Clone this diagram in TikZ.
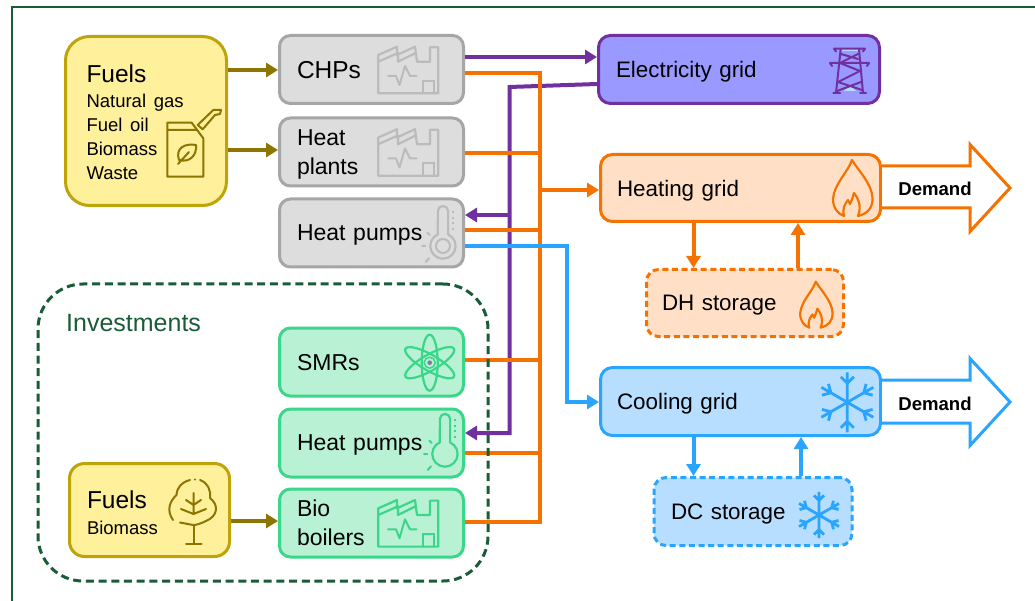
\documentclass[tikz,border=0pt]{standalone}
\usepackage{fontspec}
\setmainfont[WordSpace=0.72]{Liberation Sans}
\usetikzlibrary{arrows.meta,calc}
\definecolor{frameC}{HTML}{1A5C38}
\definecolor{fuelF}{HTML}{FFF09C}
\definecolor{fuelD}{HTML}{BFA30A}
\definecolor{oliveC}{HTML}{8C7500}
\definecolor{greyF}{HTML}{DDDDDD}
\definecolor{greyD}{HTML}{A6A6A6}
\definecolor{greyI}{HTML}{BBBBBB}
\definecolor{greenF}{HTML}{B9F1D4}
\definecolor{greenD}{HTML}{3AD68A}
\definecolor{purpC}{HTML}{7030A0}
\definecolor{elecF}{HTML}{9999FF}
\definecolor{orC}{HTML}{F57200}
\definecolor{orF}{HTML}{FFE0C7}
\definecolor{blC}{HTML}{2AA5FF}
\definecolor{blF}{HTML}{B7DEFF}
\newcommand{\fbig}{\fontsize{24.5}{29}\selectfont}
\newcommand{\fsml}{\fontsize{18.5}{24}\selectfont}
\tikzset{
  bx/.style n args={3}{rectangle,minimum width=#1pt,minimum height=#2pt,inner xsep=#3pt,inner ysep=0pt,
     text width=#1pt-2*#3pt,align=left,line width=3pt,outer sep=1.5pt,
     font=\fontsize{23}{29}\selectfont,text=black,
     execute at end node={\par\vspace*{-5pt}}},
  gridtext/.style={font=\fontsize{22.4}{29}\selectfont},
  rc/.style={rounded corners=#1pt},
  greybox/.style={draw=greyD,fill=greyF,rc=11},
  greenbox/.style={draw=greenD,fill=greenF,rc=11},
  fuelbox/.style={draw=fuelD,fill=fuelF},
  dashbox/.style={dash pattern=on 6pt off 3.6pt},
  link/.style={line width=4pt},
  tip/.style={-{Triangle[length=12pt,width=14pt]}},
  oarrow/.style={link,oliveC,tip},
  pline/.style={link,purpC},
  oline/.style={link,orC},
  bline/.style={link,blC},
  dem/.style={line width=3pt,fill=white,line join=miter},
  demtext/.style={font=\bfseries\fontsize{18.6}{22}\selectfont,text=black},
  ico/.style={line width=2pt,line cap=round,line join=round},
  factory/.pic={
    \draw[ico,line width=2.2pt] (8.3,53.3)--(8.3,15)--(27,6.7)--(27,15)--(45,6.7)--(47,21.7)--(60,21.7)--(60,7.3)--(68.3,7.3)--(68.3,53.3)--cycle;
    \draw[ico,line width=2.2pt] (8.3,21.7)--(28,13)--(28,21.7)--(45,13.3);
    \draw[ico] (18,36)--(26,36)--(29.5,45)--(35,26)--(40,36)--(46.5,36);
    \draw[ico,line join=miter] (53.3,53.3)--(53.3,41)--(64,41)--(64,53.3);
  },
  thermo/.pic={
    \draw[ico,line width=2.2pt] (5.1,-11.6) arc[start angle=66,delta angle=-312,radius=12.7pt] -- (-5.1,-35)
       arc[start angle=180,delta angle=-180,radius=5.1pt] -- cycle;
    \draw[ico,line width=2pt,dash pattern=on 2pt off 3.6pt,line cap=butt] (10,-35)--(10,-14);
    \draw[ico] (-15.6,-13.3)--(-13.3,-11) (-21,0)--(-17.6,0) (-17.3,16)--(-14,12.3);
  },
  atom/.pic={
    \foreach \a in {0,60,120}{\draw[line width=2.2pt,rotate=\a] (0,0) circle[x radius=8,y radius=28];}
    \draw[line width=1.5pt] (0,0) circle[radius=5.5];
    \fill[fill=purpC!45!greyD] (0,0) circle[radius=2.3];
  },
  flame/.pic={
    \draw[ico,line width=2.2pt] (32,4) .. controls (28,16) and (14,28) .. (13,43) .. controls (13,52) and (18,58) .. (24,60)
      .. controls (22,52) and (25,48) .. (28,44) -- (30,48) .. controls (32,44) and (33,40) .. (34,37)
      .. controls (38,42) and (42,50) .. (38,60) .. controls (47,58) and (53,52) .. (52.5,42)
      .. controls (52,28) and (38,14) .. (32,4) -- cycle;
  },
  snow/.pic={
    \foreach \a in {0,60,...,300}{
      \draw[line width=2.8pt,rotate=\a] (0,0)--(0,-30) (0,-19)--(-6.5,-25.5) (0,-19)--(6.5,-25.5);}
  },
  tower/.pic={
    \fill[fill=blF] (24,53)--(30,47.5)--(36,53)--cycle;
    \fill[fill=blF] (20,11)--(39,11)--(39,13)--(20,13)--cycle;
    \draw[ico] (14,10.7)--(45,10.7) (14,10.7)--(16,13.5) (45,10.7)--(43,13.5);
    \draw[ico] (10,25)--(49,25) (10,25)--(12,28) (49,25)--(47,28);
    \draw[ico] (20.7,11)--(16,55) (39,11)--(43,55) (13.3,55)--(20,55) (40,55)--(46,55);
    \draw[ico] (21,16)--(38,21) (38,16)--(20,25) (20,25)--(40,33) (40,33)--(18,44) (18,44)--(42,52) (41,44)--(17,53);
  },
  can/.pic={
    \draw[ico,line join=round] (7.3,22.7)--(31.7,22.7)--(43.3,38.3)--(43.3,76.7)--(7.3,76.7)--cycle (7.3,30)--(36.7,30);
    \draw[ico] (37.7,25)--(53.3,10)--(61,10)--(60,14)--(55,15)--(42.7,29.3)--cycle;
    \draw[ico] (19,60) .. controls (15,48) and (25,43) .. (36,45) .. controls (37,55) and (30,63) .. (19,60) (18,64)--(29,52);
  },
  tree/.pic={
    \draw[ico] (30,10) .. controls (22,12) and (17,17) .. (16.5,25) .. controls (10,31) and (6,40) .. (13,50);
    \draw[ico] (40,10) .. controls (48,13) and (51,20) .. (50,28) .. controls (59,35) and (58,46) .. (46,51) .. controls (40,54) and (36,55) .. (33,55) -- (20,52.5);
    \fill (35,9.5) circle[radius=1.1];
    \draw[ico] (33.5,55)--(33.5,73) (26,73.5)--(41.5,73.5);
    \draw[ico] (33.5,23)--(33.5,44) (26,30)--(33.5,35)--(41,30) (21,39)--(33.5,44)--(46,39);
  },
}
\begin{document}
\begin{tikzpicture}[x=1pt,y=-1pt]
\useasboundingbox (0,0) rectangle (1035,601);
\fill[white] (0,0) rectangle (1035,601);
\coordinate (frA) at (12,601);
\coordinate (frB) at (12,7);
\coordinate (frC) at (1035,7);
\draw[frameC,line width=2pt] (frA)--(frB)--(frC);
% boxes
\node[bx={161}{169}{21},fuelbox,rc=24,execute at end node={\par\vspace*{2pt}}] (fuelsA) at (146,121) {{\fbig Fuels}\\[1pt]\fsml Natural gas\\Fuel oil\\Biomass\\Waste\par};
\node[bx={184}{68}{17.5},greybox,font=\fontsize{24.5}{29}\selectfont] (chp) at (371.5,69.5) {CHPs};
\node[bx={184}{68}{17.5},greybox] (plants) at (371.5,152) {Heat\\plants};
\node[bx={184}{68}{17.5},greybox,execute at end node={\par\vspace*{-6pt}}] (hpg) at (371.5,233) {Heat pumps};
\node[bx={184}{68}{17.5},greenbox] (smr) at (371.5,362) {SMRs};
\node[bx={184}{68}{17.5},greenbox,execute at end node={\par\vspace*{-6pt}}] (hpn) at (371.5,443) {Heat pumps};
\node[bx={184}{68}{17.5},greenbox,execute at end node={\par\vspace*{6pt}}] (boil) at (371.5,523) {Bio\\boilers};
\node[bx={160}{93}{17.5},fuelbox,rc=15,execute at end node={}] (fuelsB) at (149.5,510) {{\fbig Fuels}\\[2pt]\fsml Biomass\par};
\node[bx={281}{68}{17.5},gridtext,draw=purpC,fill=elecF,rc=12] (elec) at (739,69.5) {Electricity grid};
\node[bx={280}{67}{16.5},gridtext,draw=orC,fill=orF,rc=12] (heat) at (740.5,188) {Heating grid};
\node[bx={197}{67}{15.5},gridtext,draw=orC,fill=orF,rc=12,dashbox] (dh) at (745,303) {DH storage};
\node[bx={280}{68}{16.5},gridtext,draw=blC,fill=blF,rc=12] (cool) at (740.5,401.5) {Cooling grid};
\node[bx={198}{68}{17},gridtext,draw=blC,fill=blF,rc=12,dashbox] (dc) at (753,511.5) {DC storage};
% buses
\coordinate (busP) at (509.5,0);
\coordinate (busO) at (540,0);
\coordinate (busB) at (567,0);
% purple
\draw[pline,tip] (chp.east|-0,57) -- (elec.west|-0,57);
\draw[pline,tip] (elec.west|-0,84) -- (busP|-0,87) -- (busP|-0,433) -- (hpn.east|-0,433);
\draw[pline,tip] (busP|-0,215) -- (hpg.east|-0,215);
% orange
\draw[oline] (chp.east|-0,73) -- (busO|-0,73) -- (busO|-0,521.5) -- (boil.east|-0,521.5);
\draw[oline] (plants.east|-0,153.5) -- (busO|-0,153.5);
\draw[oline] (hpg.east|-0,230) -- (busO|-0,230);
\draw[oline] (smr.east|-0,360) -- (busO|-0,360);
\draw[oline] (hpn.east|-0,453) -- (busO|-0,453);
\draw[oline,tip] (busO|-0,190) -- (heat.west|-0,190);
% blue
\draw[bline,tip] (hpg.east|-0,246) -- (busB|-0,246) -- (busB|-0,402) -- (cool.west|-0,402);
% fuels
\draw[oarrow] (fuelsA.east|-0,70) -- (chp.west|-0,70);
\draw[oarrow] (fuelsA.east|-0,150) -- (plants.west|-0,150);
\draw[oarrow] (fuelsB.east|-0,521) -- (boil.west|-0,521);
% storage
\draw[oline,tip] (heat.south-|693.5,0) -- (dh.north-|693.5,0);
\draw[oline,tip] (dh.north-|798,0) -- (heat.south-|798,0);
\draw[bline,tip] (cool.south-|693.5,0) -- (dc.north-|693.5,0);
\draw[bline,tip] (dc.north-|801,0) -- (cool.south-|801,0);
% demand
\draw[dem,draw=orC] (heat.east|-0,166) -- (970,166) -- (970,144.5) -- (1010,188) -- (970,231.5) -- (970,208) -- (heat.east|-0,208);
\node[demtext] (demH) at (935,189) {Demand};
\draw[dem,draw=blC] (cool.east|-0,380) -- (970,380) -- (970,358.5) -- (1010,402) -- (970,445.5) -- (970,423) -- (cool.east|-0,423);
\node[demtext] (demC) at (935,403.5) {Demand};
% investments
\node[rectangle,draw=frameC,line width=3pt,dash pattern=on 8pt off 4.7pt,rc=45,minimum width=450pt,minimum height=297pt] (inv) at (263,432.5) {};
\node[anchor=base west,inner sep=0pt,text=frameC,font=\fontsize{25}{30}\selectfont] (invt) at (66,331) {Investments};
% icons
\pic[color=oliveC] at (160,100) {can};
\pic[color=oliveC] at (160,470) {tree};
\pic[color=greyI] at (370,40) {factory};
\pic[color=greyI] at (370,122.5) {factory};
\pic[color=greenD] at (370,493.3) {factory};
\pic[color=greyI] at (443,246) {thermo};
\draw[greyI,line width=2pt] (443,246) circle[radius=7];
\pic[color=greenD] at (445,454) {thermo};
\pic[color=greenD] at (429.7,362.7) {atom};
\pic[color=purpC] at (820,38) {tower};
\pic[color=orC] at (820,156) {flame};
\pic[color=orC,scale=.82] at (789.5,278.4) {flame};
\pic[color=blC] at (847.3,402.3) {snow};
\pic[color=blC,scale=.77] at (819,515) {snow};
\end{tikzpicture}
\end{document}
